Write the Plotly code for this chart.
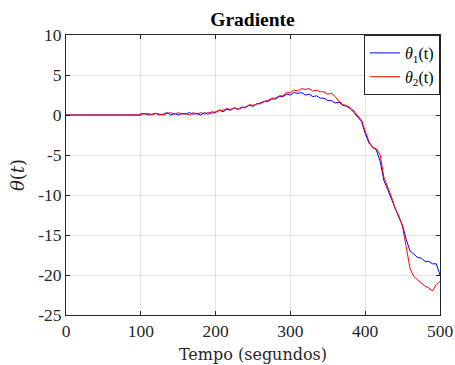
import plotly.graph_objects as go

t_flat = [0, 100]
flat_vals = [0, 0]

t = [100, 105, 110, 115, 120, 125, 130, 135, 140, 145, 150, 155, 160, 165, 170, 175,
     180, 185, 190, 195, 200, 205, 210, 215, 220, 225, 230, 235, 240, 245, 250, 255,
     260, 265, 270, 275, 280, 285, 290, 295, 300, 305, 310, 315, 320, 325, 330, 335,
     340, 345, 350, 355, 360, 365, 370, 375, 380, 385, 390, 395, 400, 405, 410, 415,
     420, 425, 430, 435, 440, 445, 450, 455, 460, 465, 470, 475, 480, 485, 490, 495, 500]

theta1 = [0.1, 0.2, 0.0, 0.1, 0.2, 0.0, 0.1, 0.3, 0.0, 0.2, 0.0, 0.2, 0.1, 0.3, 0.1, 0.2,
          0.0, 0.3, 0.1, 0.4, 0.3, 0.6, 0.4, 0.7, 0.6, 0.9, 0.7, 0.9, 1.0, 1.2, 1.1, 1.4,
          1.4, 1.7, 1.7, 2.0, 2.0, 2.3, 2.3, 2.6, 2.5, 2.8, 2.7, 2.8, 2.5, 2.6, 2.3, 2.4,
          2.1, 2.1, 1.8, 1.8, 1.5, 1.6, 1.2, 1.1, 0.8, 0.3, -0.2, -0.8, -2.3, -3.5, -4.0, -4.4,
          -5.8, -8.2, -9.3, -10.5, -11.8, -12.8, -13.8, -15.6, -17.0, -17.4, -17.8, -17.9,
          -18.3, -18.3, -18.6, -18.6, -20.0]

theta2 = [0.2, 0.1, 0.2, 0.0, 0.2, 0.1, 0.0, 0.2, 0.3, 0.1, 0.3, 0.1, 0.2, 0.0, 0.3, 0.1,
          0.3, 0.1, 0.3, 0.2, 0.4, 0.6, 0.6, 0.8, 0.7, 0.9, 0.7, 1.0, 0.9, 1.3, 1.2, 1.4,
          1.5, 1.7, 1.8, 2.1, 2.1, 2.4, 2.4, 2.8, 2.8, 3.1, 3.0, 3.3, 3.2, 3.3, 3.0, 3.1,
          2.9, 2.9, 2.6, 2.7, 2.3, 1.7, 1.3, 1.2, 0.9, 0.5, -0.1, -0.6, -2.0, -3.3, -4.1, -4.2,
          -5.0, -7.8, -9.0, -10.2, -11.7, -12.6, -14.0, -16.8, -19.2, -20.2, -20.6, -21.0,
          -21.4, -21.6, -22.0, -21.2, -20.8]

x_ticks = [0, 100, 200, 300, 400, 500]
x_labels = ["0", "100", "200", "300", "400", "500"]
y_ticks = [-25, -20, -15, -10, -5, 0, 5, 10]
y_labels = ["-25", "-20", "-15", "-10", "-5", "0", "5", "10"]

times = "Liberation Serif, Times New Roman, serif"
cm = "DejaVu Serif, serif"
ink = "#262626"

fig = go.Figure()
fig.add_trace(go.Scatter(x=t_flat + t, y=flat_vals + theta1, mode="lines",
                         line=dict(color="#0000ff", width=1),
                         name="<i>θ</i><sub>1</sub>(t)"))
fig.add_trace(go.Scatter(x=t_flat + t, y=flat_vals + theta2, mode="lines",
                         line=dict(color="#ff0000", width=1),
                         name="<i>θ</i><sub>2</sub>(t)"))

axis_common = dict(showline=True, linecolor=ink, linewidth=1, mirror="ticks",
                   ticks="inside", ticklen=4, tickcolor=ink, automargin=False,
                   showgrid=True, gridcolor="#e3e3e3", gridwidth=1, zeroline=False,
                   tickfont=dict(family=times, size=17.5, color=ink))

fig.update_layout(
    width=455, height=365,
    font=dict(family=times, size=16, color=ink),
    margin=dict(l=66, r=15, t=35, b=50),
    paper_bgcolor="white", plot_bgcolor="white",
    title=dict(text="<b>Gradiente</b>", x=252.5 / 455, xanchor="center",
               y=1 - 19 / 365, yanchor="middle",
               font=dict(family=times, size=19.5, color="black")),
    xaxis=dict(range=[0, 500], tickvals=x_ticks, ticktext=x_labels,
               title=dict(text="Tempo (segundos)", standoff=8,
                          font=dict(family=cm, size=16, color=ink)),
               **axis_common),
    yaxis=dict(range=[-25, 10], tickvals=y_ticks, ticktext=y_labels,
               title=dict(text="<i>θ</i>(<i>t</i>)", standoff=8,
                          font=dict(family=cm, size=18, color=ink)),
               **axis_common),
    legend=dict(x=1, y=1, xanchor="right", yanchor="top", bgcolor="white",
                bordercolor=ink, borderwidth=1,
                font=dict(family=times, size=16, color="black"),
                tracegroupgap=0, itemwidth=30),
    showlegend=True,
)

fig.write_html("out.html")
